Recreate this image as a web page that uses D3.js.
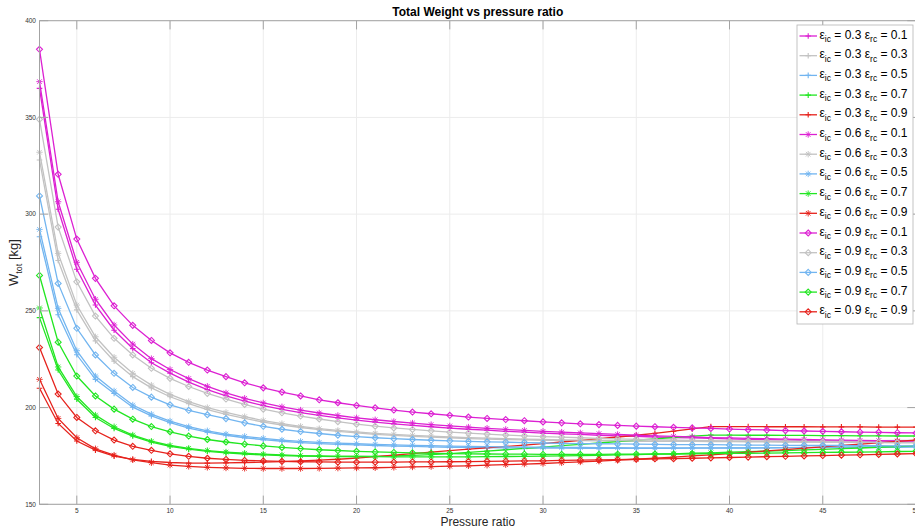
<!DOCTYPE html>
<html>
<head>
<meta charset="utf-8">
<script src="https://cdn.jsdelivr.net/npm/d3@7"></script>
<style>
  body { margin: 0; background: #fff; }
  svg { display: block; font-family: "Liberation Sans", Arial, sans-serif; }
</style>
</head>
<body>
<div id="chart"></div>
<script>
// pressure ratio (x)
const pressureRatio = [3, 4, 5, 6, 7, 8, 9, 10, 11, 12, 13, 14, 15, 16, 17, 18, 19, 20, 21, 22, 23, 24, 25, 26,
  27, 28, 29, 30, 31, 32, 33, 34, 35, 36, 37, 38, 39, 40, 41, 42, 43, 44, 45, 46, 47, 48, 49, 50]

// total weight [kg], eps_ic = 0.3
const w_ic03_rc01 = [365, 302.5, 271.5, 253, 240, 230.5, 223.2, 217.8, 213.2, 209.3, 206.1, 203.4, 201, 199.1, 197.4, 196, 194.7, 193.5, 192.5, 191.6, 190.8, 190.1, 189.4, 188.8,
  188.3, 187.7, 187.3, 186.8, 186.4, 186.1, 185.7, 185.4, 185.1, 184.8, 184.5, 184.3, 184.1, 183.8, 183.6, 183.4, 183.3, 183.1, 183, 182.8, 182.7, 182.6, 182.5, 182.4]
const w_ic03_rc03 = [328, 276, 250.5, 234.5, 224, 216, 210.2, 205.6, 202, 199, 196.5, 194.4, 192.5, 191, 189.7, 188.6, 187.7, 186.9, 186.2, 185.6, 185.1, 184.7, 184.3, 184,
  183.7, 183.5, 183.3, 183.1, 183, 182.9, 182.8, 182.7, 182.6, 182.6, 182.6, 182.6, 182.6, 182.6, 182.6, 182.7, 182.7, 182.7, 182.8, 182.8, 182.9, 182.9, 183, 183]
const w_ic03_rc05 = [288.3, 248, 227.3, 214.6, 207.3, 200.2, 195.7, 192.2, 189.4, 187.3, 185.7, 184.4, 183.4, 182.6, 181.9, 181.4, 181, 180.7, 180.4, 180.1, 179.9, 179.7, 179.5, 179.4,
  179.3, 179.2, 179.1, 179, 179, 178.9, 178.9, 178.9, 178.9, 178.9, 178.9, 179, 179, 179.1, 179.1, 179.2, 179.3, 179.4, 179.5, 179.6, 179.7, 179.8, 179.9, 180]
const w_ic03_rc07 = [246.5, 219.4, 204.3, 194.9, 189.2, 185.3, 182.2, 180, 178.5, 177.4, 176.6, 176, 175.5, 175.2, 174.9, 174.8, 174.7, 174.7, 174.8, 175, 175.3, 175.7, 176.2, 176.8,
  177.5, 178.2, 178.9, 179.6, 180.3, 181, 181.7, 182.4, 183.1, 183.8, 184.5, 185.2, 185.8, 185.8, 185.7, 185.7, 185.6, 185.6, 185.5, 185.5, 185.4, 185.4, 185.3, 185.3]
const w_ic03_rc09 = [210, 191.8, 182.7, 178, 174.9, 173.2, 172.2, 171.6, 171.3, 171.3, 171.4, 171.6, 171.8, 172.1, 172.4, 172.8, 173.3, 173.9, 174.6, 175.4, 176.2, 177, 177.8, 178.5,
  179.2, 179.9, 180.6, 181.4, 182.2, 183, 183.9, 184.8, 185.7, 186.7, 187.8, 189, 190.2, 190.2, 190.2, 190.1, 190.1, 190.1, 190, 190, 190, 189.9, 189.9, 189.9]

// eps_ic = 0.6
const w_ic06_rc01 = [368.5, 306.4, 275.1, 256, 242.7, 232.8, 225.3, 219.7, 215, 211, 207.6, 204.8, 202.4, 200.4, 198.7, 197.2, 195.9, 194.7, 193.7, 192.8, 192, 191.2, 190.5, 189.9,
  189.3, 188.7, 188.2, 187.7, 187.3, 186.9, 186.5, 186.1, 185.7, 185.4, 185.1, 184.8, 184.5, 184.3, 184.1, 183.9, 183.7, 183.5, 183.3, 183.2, 183, 182.9, 182.8, 182.7]
const w_ic06_rc03 = [332, 279.7, 253, 236.6, 226, 217.7, 211.6, 206.8, 203.1, 200, 197.5, 195.3, 193.3, 191.7, 190.3, 189.1, 188.2, 187.4, 186.7, 186.1, 185.6, 185.2, 184.8, 184.5,
  184.2, 184, 183.7, 183.5, 183.3, 183.2, 183, 182.9, 182.8, 182.7, 182.6, 182.5, 182.4, 182.4, 182.3, 182.3, 182.2, 182.2, 182.1, 182.1, 182.1, 182, 182, 182]
const w_ic06_rc05 = [292.1, 251.3, 229.4, 216.3, 208.6, 201.3, 196.6, 193, 190.1, 188, 186.3, 185.1, 184.1, 183.2, 182.5, 182, 181.6, 181.3, 181, 180.7, 180.5, 180.3, 180.1, 179.9,
  179.8, 179.7, 179.6, 179.5, 179.4, 179.4, 179.3, 179.3, 179.2, 179.2, 179.2, 179.2, 179.2, 179.2, 179.2, 179.2, 179.3, 179.3, 179.3, 179.4, 179.4, 179.5, 179.5, 179.6]
const w_ic06_rc07 = [251.5, 221, 205.7, 196.1, 190.1, 185.8, 182.6, 180.4, 178.9, 177.8, 177, 176.4, 175.9, 175.5, 175.2, 175, 174.8, 174.7, 174.6, 174.5, 174.5, 174.5, 174.5, 174.5,
  174.6, 174.7, 174.8, 174.9, 175, 175.2, 175.3, 175.5, 175.7, 175.9, 176.1, 176.4, 176.6, 176.9, 177.2, 177.5, 177.8, 178.1, 178.4, 178.8, 179.1, 179.5, 179.8, 180.2]
const w_ic06_rc09 = [214.6, 194.4, 184.4, 178.7, 175.4, 173, 171.5, 170.3, 169.6, 169.1, 168.8, 168.6, 168.5, 168.5, 168.5, 168.6, 168.7, 168.8, 168.9, 169.1, 169.3, 169.5, 169.7, 169.9,
  170.2, 170.5, 170.8, 171.1, 171.5, 171.9, 172.3, 172.8, 173.3, 173.8, 174.4, 175, 175.6, 176.2, 176.9, 177.6, 178.3, 179, 179.7, 180.4, 181.1, 181.8, 182.5, 183.2]

// eps_ic = 0.9
const w_ic09_rc01 = [385.2, 320.6, 287.1, 266.8, 252.6, 242.5, 234.7, 228.3, 223.4, 219.4, 216, 212.8, 210.2, 208, 206, 204, 202.5, 201.1, 199.9, 198.7, 197.7, 196.8, 196, 195.1,
  194.4, 193.8, 193.2, 192.6, 192.1, 191.6, 191.2, 190.8, 190.4, 190.1, 189.8, 189.5, 189.2, 188.9, 188.6, 188.4, 188.1, 187.9, 187.7, 187.5, 187.3, 187.2, 187, 186.9]
const w_ic09_rc03 = [349, 293.3, 265, 247.3, 235.8, 227.2, 220.3, 215.1, 210.9, 207.3, 204.4, 201.6, 199.2, 197.3, 195.6, 194.1, 192.7, 191.4, 190.4, 189.5, 188.7, 188, 187.3, 186.8,
  186.3, 185.8, 185.4, 185, 184.7, 184.4, 184.1, 183.8, 183.6, 183.4, 183.2, 183, 182.9, 182.7, 182.6, 182.5, 182.4, 182.3, 182.2, 182.1, 182, 181.9, 181.8, 181.7]
const w_ic09_rc05 = [309.4, 264.2, 241, 227.2, 217.7, 210.4, 205.4, 201.4, 198.6, 196.3, 194.3, 192.1, 190.3, 188.8, 187.6, 186.6, 185.7, 185, 184.4, 183.9, 183.5, 183.1, 182.8, 182.5,
  182.3, 182.1, 181.9, 181.7, 181.5, 181.4, 181.3, 181.2, 181.1, 181, 180.9, 180.8, 180.8, 180.7, 180.6, 180.6, 180.5, 180.5, 180.4, 180.4, 180.3, 180.3, 180.2, 180.2]
const w_ic09_rc07 = [268.3, 233.8, 216.3, 206, 199.2, 194, 190.2, 187.5, 185.3, 183.5, 182.2, 181.1, 180.2, 179.4, 178.8, 178.2, 177.8, 177.4, 177.1, 176.8, 176.6, 176.4, 176.2, 176.1,
  176, 175.9, 175.9, 175.8, 175.8, 175.8, 175.8, 175.9, 175.9, 176, 176, 176.1, 176.2, 176.3, 176.4, 176.5, 176.6, 176.7, 176.8, 176.9, 177, 177.1, 177.3, 177.4]
const w_ic09_rc09 = [231, 207, 194.9, 188, 183.2, 180, 177.9, 176.1, 174.8, 173.8, 173.2, 172.7, 172.4, 172.2, 172, 171.9, 171.8, 171.8, 171.8, 171.8, 171.9, 171.9, 172, 172.1,
  172.2, 172.3, 172.4, 172.5, 172.7, 172.8, 173, 173.1, 173.3, 173.5, 173.6, 173.8, 174, 174.2, 174.4, 174.6, 174.8, 175, 175.2, 175.4, 175.6, 175.8, 176, 176.2]

const epsIc = ['0.3', '0.6', '0.9']
const epsRc = ['0.1', '0.3', '0.5', '0.7', '0.9']
const xTicks = [5, 10, 15, 20, 25, 30, 35, 40, 45, 50]
const yTicks = [150, 200, 250, 300, 350, 400]

const valuesByIc = [
  [w_ic03_rc01, w_ic03_rc03, w_ic03_rc05, w_ic03_rc07, w_ic03_rc09],
  [w_ic06_rc01, w_ic06_rc03, w_ic06_rc05, w_ic06_rc07, w_ic06_rc09],
  [w_ic09_rc01, w_ic09_rc03, w_ic09_rc05, w_ic09_rc07, w_ic09_rc09]
]
const colors = ['#dc20d2', '#c2c2c2', '#72b5f0', '#22e622', '#e6221c']
const markers = ['plus', 'star', 'diamond']

// table des séries, dans l'ordre de tracé matlab
let series = []
epsIc.forEach((ic, i) => {
  epsRc.forEach((rc, j) => {
    series.push({ ic: ic, rc: rc, values: valuesByIc[i][j], color: colors[j], marker: markers[i] })
  })
})

const W = 915, H = 531
let margin = { top: 20.7, right: -1, bottom: 26.7, left: 39.5 }

let svg = d3.select('#chart').append('svg')
  .attr('width', W)
  .attr('height', H)

let x = d3.scaleLinear().domain([3, 50]).range([margin.left, W - margin.right])
let y = d3.scaleLinear().domain([150, 400]).range([H - margin.bottom, margin.top])

const axisColor = '#a3a3a3'
const tickLen = 8.7

// grille
svg.append('g').selectAll('line.gx').data(xTicks).join('line')
  .attr('x1', d => x(d)).attr('x2', d => x(d))
  .attr('y1', y(150)).attr('y2', y(400))
  .attr('stroke', '#ececec').attr('stroke-width', 1)
svg.append('g').selectAll('line.gy').data(yTicks).join('line')
  .attr('y1', d => y(d)).attr('y2', d => y(d))
  .attr('x1', x(3)).attr('x2', x(50))
  .attr('stroke', '#ececec').attr('stroke-width', 1)

// marqueurs
function markerPath(type, s) {
  if (type === 'plus') return `M${-s},0H${s}M0,${-s}V${s}`
  if (type === 'star') {
    let a = s * 0.72
    return `M${-s},0H${s}M0,${-s}V${s}M${-a},${-a}L${a},${a}M${-a},${a}L${a},${-a}`
  }
  return `M0,${-s}L${s},0L0,${s}L${-s},0Z`
}
function markerSize(type) {
  if (type === 'diamond') return 3
  if (type === 'star') return 3.2
  return 2.8
}

let line = d3.line()
  .x((d, i) => x(pressureRatio[i]))
  .y(d => y(d))

let plot = svg.append('g')
series.forEach(s => {
  let g = plot.append('g')
  g.append('path')
    .datum(s.values)
    .attr('d', line)
    .attr('fill', 'none')
    .attr('stroke', s.color)
    .attr('stroke-width', 1.3)
  g.selectAll('path.m').data(s.values).join('path')
    .attr('class', 'm')
    .attr('transform', (d, i) => `translate(${x(pressureRatio[i])},${y(d)})`)
    .attr('d', markerPath(s.marker, markerSize(s.marker)))
    .attr('fill', 'none')
    .attr('stroke', s.color)
    .attr('stroke-width', s.marker === 'star' ? 0.9 : 1.1)
})

// cadre et graduations (vers l'intérieur)
let axes = svg.append('g').attr('stroke', axisColor).attr('stroke-width', 1)
axes.append('rect')
  .attr('x', x(3)).attr('y', y(400))
  .attr('width', x(50) - x(3)).attr('height', y(150) - y(400))
  .attr('fill', 'none')
xTicks.forEach(t => {
  axes.append('line').attr('x1', x(t)).attr('x2', x(t)).attr('y1', y(150)).attr('y2', y(150) - tickLen)
  axes.append('line').attr('x1', x(t)).attr('x2', x(t)).attr('y1', y(400)).attr('y2', y(400) + tickLen)
})
yTicks.forEach(t => {
  axes.append('line').attr('x1', x(3)).attr('x2', x(3) + tickLen).attr('y1', y(t)).attr('y2', y(t))
  axes.append('line').attr('x1', x(50)).attr('x2', x(50) - tickLen).attr('y1', y(t)).attr('y2', y(t))
})

svg.append('g').selectAll('text').data(xTicks).join('text')
  .attr('x', d => x(d))
  .attr('y', y(150) + 8.8)
  .attr('text-anchor', 'middle')
  .attr('font-size', 6.5)
  .attr('fill', '#333')
  .text(d => d)
svg.append('g').selectAll('text').data(yTicks).join('text')
  .attr('x', x(3) - 3.5)
  .attr('y', d => y(d) + 2.3)
  .attr('text-anchor', 'end')
  .attr('font-size', 6.5)
  .attr('fill', '#333')
  .text(d => d)

// titres
svg.append('text')
  .attr('x', (x(3) + x(50)) / 2)
  .attr('y', 16)
  .attr('text-anchor', 'middle')
  .attr('font-size', 12)
  .attr('font-weight', 'bold')
  .attr('fill', '#000')
  .text('Total Weight vs pressure ratio')

svg.append('text')
  .attr('x', (x(3) + x(50)) / 2)
  .attr('y', 526)
  .attr('text-anchor', 'middle')
  .attr('font-size', 12)
  .attr('fill', '#262626')
  .text('Pressure ratio')

let ylab = svg.append('text')
  .attr('transform', `translate(18,${(y(150) + y(400)) / 2}) rotate(-90)`)
  .attr('text-anchor', 'middle')
  .attr('font-size', 13)
  .attr('fill', '#262626')
ylab.append('tspan').text('W')
ylab.append('tspan').attr('font-size', 9).attr('dy', 3.5).text('tot')
ylab.append('tspan').attr('dy', -3.5).text(' [kg]')

// légende
let legend = svg.append('g')
legend.append('rect')
  .attr('x', 797).attr('y', 25)
  .attr('width', 116).attr('height', 299)
  .attr('fill', '#fff')
  .attr('stroke', '#b5b5b5')
  .attr('stroke-width', 0.8)

series.forEach((s, i) => {
  let cy = 36 + i * 19.7
  let row = legend.append('g')
  row.append('line')
    .attr('x1', 799.5).attr('x2', 817)
    .attr('y1', cy).attr('y2', cy)
    .attr('stroke', s.color).attr('stroke-width', 1.3)
  row.append('path')
    .attr('transform', `translate(808.2,${cy})`)
    .attr('d', markerPath(s.marker, markerSize(s.marker)))
    .attr('fill', 'none')
    .attr('stroke', s.color)
    .attr('stroke-width', s.marker === 'star' ? 0.9 : 1.1)
  let t = row.append('text')
    .attr('x', 819.5)
    .attr('y', cy + 2.5)
    .attr('font-size', 12)
    .attr('fill', '#000')
  t.append('tspan').text('ε')
  t.append('tspan').attr('font-size', 8.5).attr('dy', 3.5).text('ic')
  t.append('tspan').attr('dy', -3.5).text(' = ' + s.ic + ' ε')
  t.append('tspan').attr('font-size', 8.5).attr('dy', 3.5).text('rc')
  t.append('tspan').attr('dy', -3.5).text(' = ' + s.rc)
})
</script>
</body>
</html>
